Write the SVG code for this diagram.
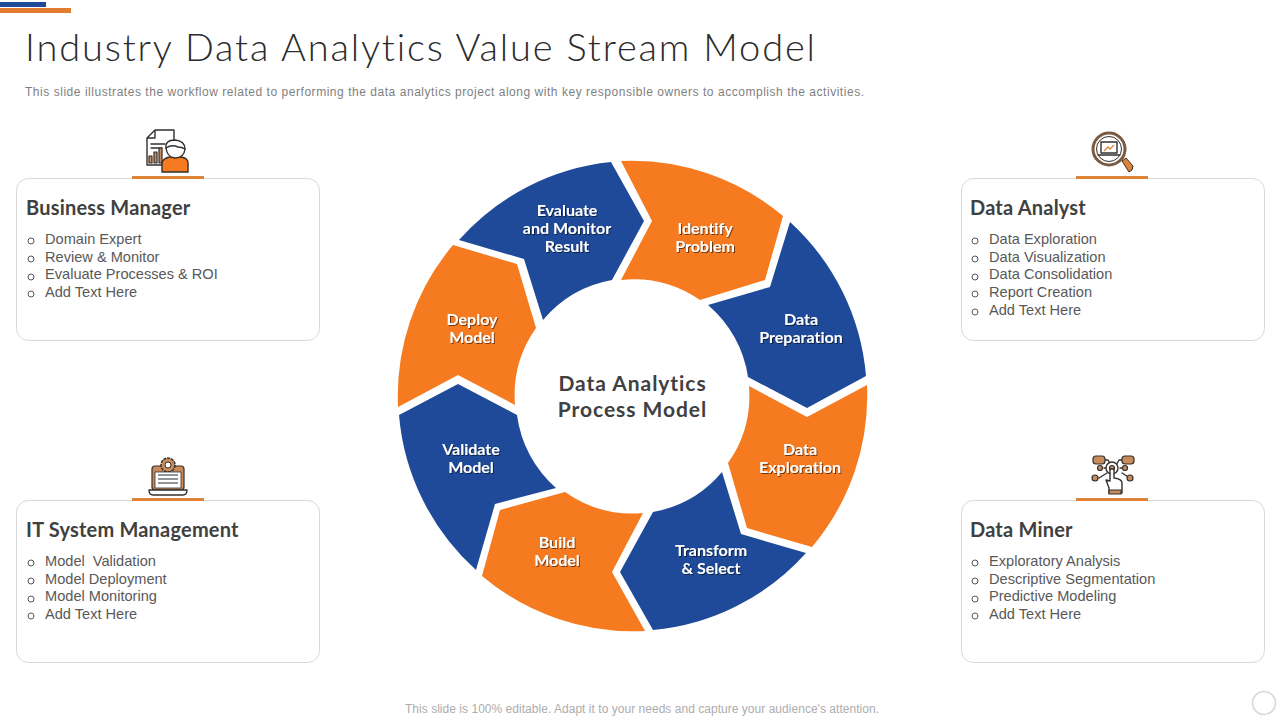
<svg xmlns="http://www.w3.org/2000/svg" width="1280" height="720" viewBox="0 0 1280 720">
<defs>
<filter id="sh" x="-10%" y="-10%" width="120%" height="130%"><feDropShadow dx="1" dy="1" stdDeviation="0.7" flood-color="#000" flood-opacity="0.55"/></filter>
</defs>
<style>
text{font-variant-ligatures:none}
.o{fill:#f57a20}.b{fill:#1f4a99}
.seg{font-family:"Lato","Liberation Sans",sans-serif;font-weight:700;font-size:16px;fill:#fff;text-anchor:middle;filter:url(#sh)}
.card{fill:#fff;stroke:#d9d9d9;stroke-width:1}
.bar{fill:#dd8438}
.h{font-family:"Lato","Liberation Sans",sans-serif;font-weight:700;font-size:20px;letter-spacing:0.2px;fill:#404040}
.t{font-family:"Liberation Sans",Arial,sans-serif;font-size:14.6px;fill:#595959}
.d{fill:none;stroke:#595959;stroke-width:1}
.k{fill:none;stroke:#33302e;stroke-width:1.4;stroke-linejoin:round;stroke-linecap:round}
.kf{fill:#c98a5c;stroke:#33302e;stroke-width:1.2;stroke-linejoin:round}
.kw{fill:#fff;stroke:#33302e;stroke-width:1.4;stroke-linejoin:round}
</style>
<rect width="1280" height="720" fill="#fff"/>
<rect x="0" y="2" width="46" height="5" fill="#1f4a99"/>
<rect x="0" y="8" width="71" height="5" fill="#e27c30"/>
<text x="25" y="61" font-family="Lato,'Liberation Sans',sans-serif" font-weight="300" font-size="38" fill="#2b2b2b" textLength="790" lengthAdjust="spacing">Industry Data Analytics Value Stream Model</text>
<text x="25" y="96" font-family="'Liberation Sans',Arial,sans-serif" font-size="12" fill="#7f7f7f" textLength="839" lengthAdjust="spacing">This slide illustrates the workflow related to performing the data analytics project along with key responsible owners to accomplish the activities.</text>

<g id="ring">
<g id="seg-evaluate"><path class="b" d="M459 240A235 235 0 0 1 611 162L644 221L612 280A117 117 0 0 0 543 320L524 259Z"/>
<text class="seg" x="567" y="216">Evaluate</text><text class="seg" x="567" y="234">and Monitor</text><text class="seg" x="567" y="252">Result</text></g>
<g id="seg-identify"><path class="o" d="M621 161A235 235 0 0 1 783 216L765 280L700 300A117 117 0 0 0 621 280L652 221Z"/>
<text class="seg" x="705" y="234">Identify</text><text class="seg" x="705" y="252">Problem</text></g>
<g id="seg-preparation"><path class="b" d="M790 222A235 235 0 0 1 866 376L807 408L748 377A117 117 0 0 0 708 305L770 287Z"/>
<text class="seg" x="801" y="325">Data</text><text class="seg" x="801" y="343">Preparation</text></g>
<g id="seg-exploration"><path class="o" d="M867 385A235 235 0 0 1 812 547L747 528L728 463A117 117 0 0 0 749 386L807 417Z"/>
<text class="seg" x="800" y="455">Data</text><text class="seg" x="800" y="473">Exploration</text></g>
<g id="seg-transform"><path class="b" d="M806 553A235 235 0 0 1 653 630L620 572L653 512A117 117 0 0 0 722 472L741 534Z"/>
<text class="seg" x="711" y="556">Transform</text><text class="seg" x="711" y="574">&amp; Select</text></g>
<g id="seg-build"><path class="o" d="M645 631A235 235 0 0 1 482 576L500 510L565 492A117 117 0 0 0 643 513L612 572Z"/>
<text class="seg" x="557" y="548">Build</text><text class="seg" x="557" y="566">Model</text></g>
<g id="seg-validate"><path class="b" d="M476 570A235 235 0 0 1 399 415L458 384L517 415A117 117 0 0 0 556 488L495 504Z"/>
<text class="seg" x="471" y="455">Validate</text><text class="seg" x="471" y="473">Model</text></g>
<g id="seg-deploy"><path class="o" d="M398 407A235 235 0 0 1 453 245L517 264L536 328A117 117 0 0 0 515 405L458 375Z"/>
<text class="seg" x="472" y="325">Deploy</text><text class="seg" x="472" y="343">Model</text></g>
</g>
<g id="center">
<text x="632.500" y="391" text-anchor="middle" font-family="Lato,'Liberation Sans',sans-serif" font-weight="700" font-size="21" letter-spacing="0.95" fill="#404040">Data Analytics</text>
<text x="632.500" y="417" text-anchor="middle" font-family="Lato,'Liberation Sans',sans-serif" font-weight="700" font-size="21" letter-spacing="0.95" fill="#404040">Process Model</text>
</g>

<g id="card-business-manager">
<rect class="card" x="16.500" y="178.500" width="303" height="162" rx="12"/>
<rect class="bar" x="132" y="176" width="72" height="3"/>
<text class="h" x="26" y="215">Business Manager</text>
<circle class="d" cx="31" cy="241" r="3"/><text class="t" x="45" y="244">Domain Expert</text>
<circle class="d" cx="31" cy="259" r="3"/><text class="t" x="45" y="262">Review &amp; Monitor</text>
<circle class="d" cx="31" cy="277" r="3"/><text class="t" x="45" y="279">Evaluate Processes &amp; ROI</text>
<circle class="d" cx="31" cy="294" r="3"/><text class="t" x="45" y="297">Add Text Here</text>
<g id="icon-manager">
<path class="k" d="M155 130H174V142M155 130L147 138V165H162M147 138H155V130"/>
<path class="k" d="M151 144H165M151 148H162"/>
<rect class="kf" x="149" y="156" width="3" height="7"/><rect class="kf" x="154" y="152" width="3" height="11"/><rect class="kf" x="159" y="148" width="3" height="15"/>
<path d="M162 172V163Q163 158 170 157H181Q188 158 188 163V172Z" fill="#f57a20" stroke="#33302e" stroke-width="1.4"/>
<path class="kw" d="M166 148Q165 140 175 140Q185 141 185 149Q184 158 175 158Q167 157 166 148Z"/>
<path class="k" d="M166 148Q172 144 178 147Q182 147 185 149"/>
</g>
</g>

<g id="card-data-analyst">
<rect class="card" x="961.500" y="178.500" width="303" height="162" rx="12"/>
<rect class="bar" x="1076" y="176" width="72" height="3"/>
<text class="h" x="970" y="215">Data Analyst</text>
<circle class="d" cx="975" cy="241" r="3"/><text class="t" x="989" y="244">Data Exploration</text>
<circle class="d" cx="975" cy="259" r="3"/><text class="t" x="989" y="262">Data Visualization</text>
<circle class="d" cx="975" cy="277" r="3"/><text class="t" x="989" y="279">Data Consolidation</text>
<circle class="d" cx="975" cy="294" r="3"/><text class="t" x="989" y="297">Report Creation</text>
<circle class="d" cx="975" cy="312" r="3"/><text class="t" x="989" y="315">Add Text Here</text>
<g id="icon-analyst">
<circle cx="1109" cy="149" r="16" fill="#fff" stroke="#7a5a40" stroke-width="3"/>
<circle cx="1109" cy="149" r="12.500" fill="#fff" stroke="#33302e" stroke-width="1"/>
<rect class="k" x="1101" y="142" width="16" height="11"/>
<path class="k" d="M1098 155H1120"/>
<path d="M1104 151L1108 147L1110 149L1114 145" fill="none" stroke="#dd8438" stroke-width="1.4"/>
<path d="M1122 161L1126 158L1133 166Q1133 171 1129 172Z" fill="#dd8438" stroke="#33302e" stroke-width="1"/>
</g>
</g>

<g id="card-it-system">
<rect class="card" x="16.500" y="500.500" width="303" height="162" rx="12"/>
<rect class="bar" x="132" y="498" width="72" height="3"/>
<text class="h" x="26" y="537">IT System Management</text>
<circle class="d" cx="31" cy="563" r="3"/><text class="t" x="45" y="566" xml:space="preserve">Model  Validation</text>
<circle class="d" cx="31" cy="581" r="3"/><text class="t" x="45" y="584">Model Deployment</text>
<circle class="d" cx="31" cy="599" r="3"/><text class="t" x="45" y="601">Model Monitoring</text>
<circle class="d" cx="31" cy="616" r="3"/><text class="t" x="45" y="619">Add Text Here</text>
<g id="icon-it">
<rect class="kf" x="152" y="466" width="32" height="24" rx="3"/>
<circle cx="168" cy="465" r="7" fill="#c98a5c" stroke="#33302e" stroke-width="1.500" stroke-dasharray="3 1"/>
<circle cx="168" cy="465" r="3" fill="#fff" stroke="#33302e"/>
<rect x="155" y="472" width="26" height="16" fill="#fff" stroke="#33302e" stroke-width="0.800"/>
<path d="M158 475H178M158 479H178M158 483H178" stroke="#6d7278" stroke-width="1.500"/>
<path class="kw" d="M149 490H187Q187 495 183 495H153Q149 495 149 490Z"/>
</g>
</g>

<g id="card-data-miner">
<rect class="card" x="961.500" y="500.500" width="303" height="162" rx="12"/>
<rect class="bar" x="1076" y="498" width="72" height="3"/>
<text class="h" x="970" y="537">Data Miner</text>
<circle class="d" cx="975" cy="563" r="3"/><text class="t" x="989" y="566">Exploratory Analysis</text>
<circle class="d" cx="975" cy="581" r="3"/><text class="t" x="989" y="584">Descriptive Segmentation</text>
<circle class="d" cx="975" cy="599" r="3"/><text class="t" x="989" y="601">Predictive Modeling</text>
<circle class="d" cx="975" cy="616" r="3"/><text class="t" x="989" y="619">Add Text Here</text>
<g id="icon-miner">
<path class="k" d="M1105 460H1108L1112 467M1122 460H1119L1115 467M1104 468H1107M1120 468H1127M1099 478L1107 473M1130 478L1122 473"/>
<rect class="kf" x="1093" y="456" width="12" height="8" rx="3"/><rect class="kf" x="1122" y="456" width="12" height="8" rx="3"/>
<circle class="kf" cx="1100" cy="468" r="2.500"/><circle class="kf" cx="1125" cy="468" r="2.500"/>
<circle class="kf" cx="1095" cy="478" r="3"/><circle class="kf" cx="1130" cy="478" r="3"/>
<circle class="kw" cx="1112" cy="468" r="6"/><circle class="kf" cx="1112" cy="468" r="2.500"/>
<path class="kw" d="M1110 469V481L1106 480L1109 488V493H1122V483Q1122 479 1114 478V469Z"/>
<rect class="kf" x="1109" y="490" width="12" height="4"/>
</g>
</g>

<text x="405" y="713" font-family="'Liberation Sans',Arial,sans-serif" font-size="12" fill="#adadad" textLength="474" lengthAdjust="spacing">This slide is 100% editable. Adapt it to your needs and capture your audience's attention.</text>
<circle cx="1264" cy="703" r="11.500" fill="#fff" stroke="#d5d8e0" stroke-width="1.600"/>
</svg>
